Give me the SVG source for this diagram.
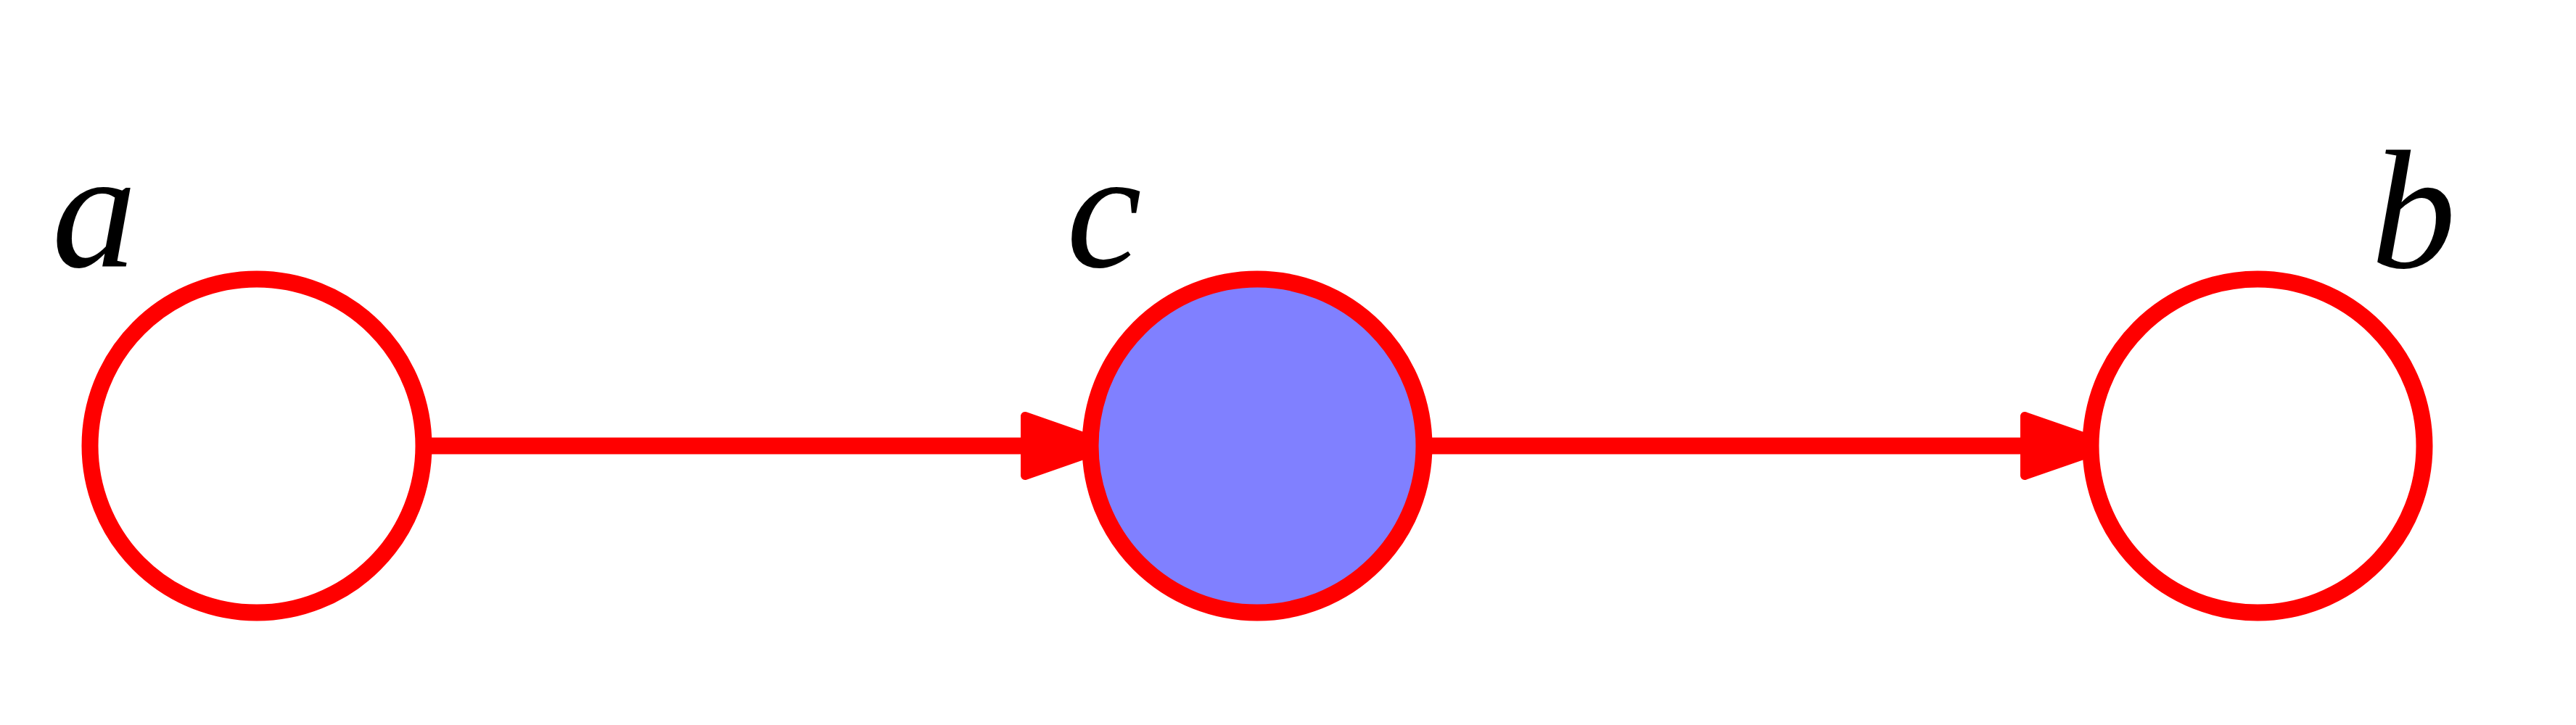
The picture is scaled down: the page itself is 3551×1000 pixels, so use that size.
<svg xmlns="http://www.w3.org/2000/svg" width="3551" height="1000" viewBox="0 0 3551 1000">
<style>
.node{stroke:#ff0000;stroke-width:23}
.edge{stroke:#ff0000;stroke-width:23;fill:none}
.lbl{font-family:"Liberation Serif","DejaVu Serif",serif;font-style:italic;font-size:234px;fill:#000;text-anchor:middle}
</style>
<defs>
<marker id="arrow" markerUnits="userSpaceOnUse" markerWidth="140" markerHeight="100" refX="13" refY="47" orient="auto" overflow="visible">
<path d="M6,6 L6,88 L124,47 Z" fill="#ff0000" stroke="#ff0000" stroke-width="12" stroke-linejoin="round"/>
</marker>
</defs>
<rect width="3551" height="1000" fill="#ffffff"/>
<g id="connectors">
<line class="edge" x1="590" y1="615" x2="1420" y2="615" marker-end="url(#arrow)"/>
<line class="edge" x1="1970" y1="615" x2="2798" y2="615" marker-end="url(#arrow)"/>
</g>
<g id="node-a">
<circle class="node" cx="354" cy="615" r="230" fill="#ffffff"/>
<text class="lbl" x="130" y="368">a</text>
</g>
<g id="node-c">
<circle class="node" cx="1733" cy="615" r="230" fill="#8080ff"/>
<text class="lbl" x="1522" y="368">c</text>
</g>
<g id="node-b">
<circle class="node" cx="3112" cy="615" r="230" fill="#ffffff"/>
<text class="lbl" x="3327" y="369">b</text>
</g>
</svg>
